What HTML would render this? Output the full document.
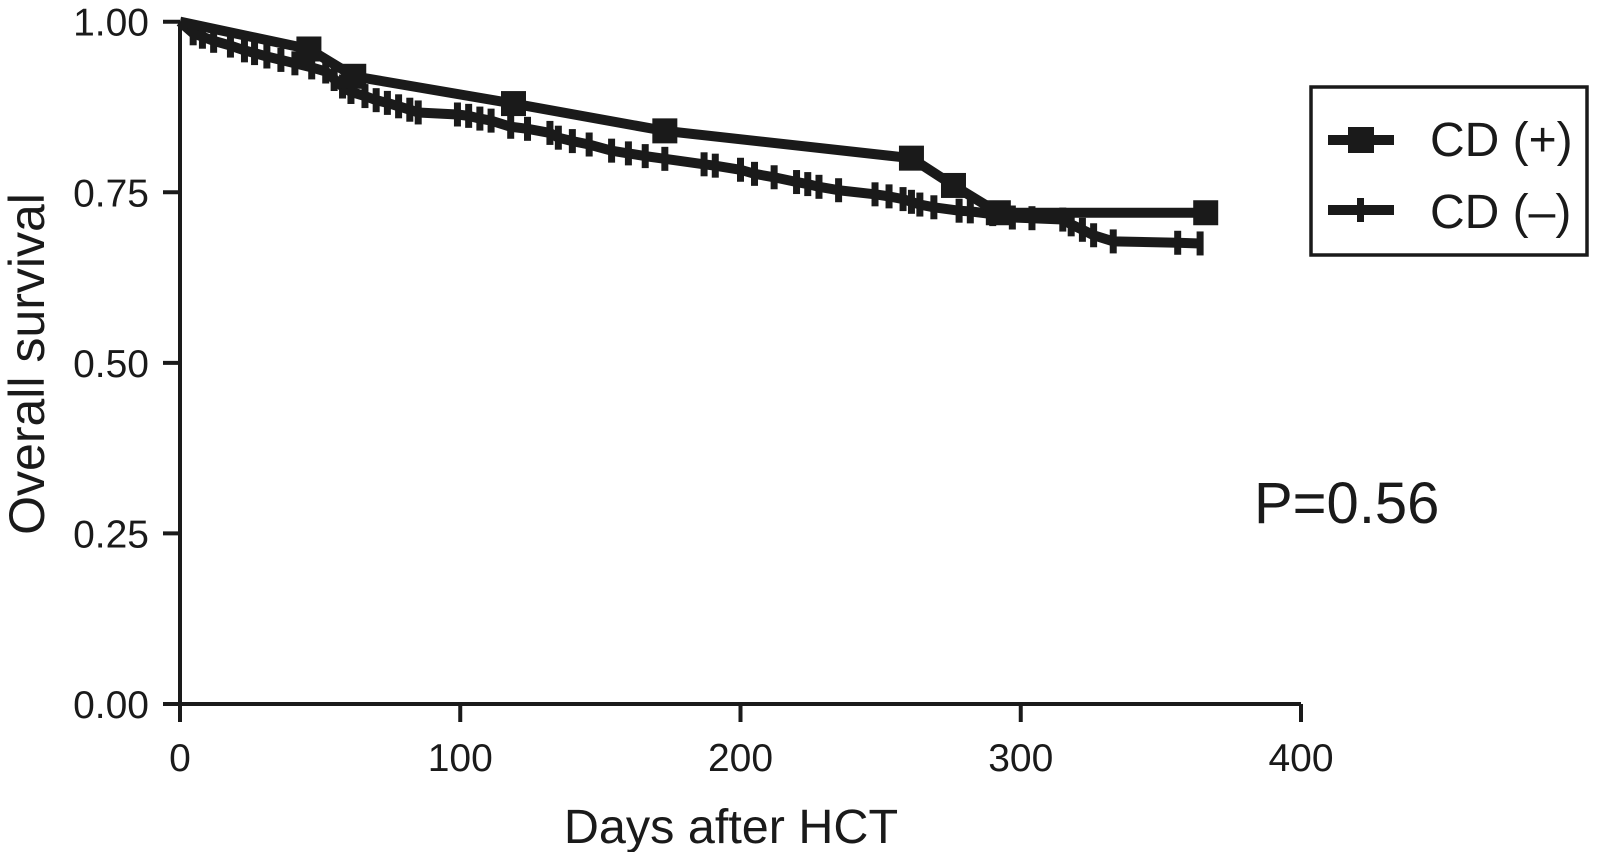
<!DOCTYPE html>
<html><head><meta charset="utf-8"><style>
html,body{margin:0;padding:0;background:#fff;}
svg{display:block;font-family:"Liberation Sans",Arial,sans-serif;}
</style></head><body>
<svg id="chart" width="1602" height="852" viewBox="0 0 1602 852" xmlns="http://www.w3.org/2000/svg">
<g id="axes"></g>
<g id="series"></g>
<g>
  <rect x="1311" y="87" width="276" height="168" fill="#fff" stroke="#1a1a1a" stroke-width="3.5"/>
  <g>
    <line x1="1328" y1="140" x2="1394" y2="140" stroke="#1a1a1a" stroke-width="10"/>
    <rect x="1348" y="127" width="26" height="26" fill="#1a1a1a"/>
    <text x="1430" y="156" font-size="48" fill="#1a1a1a">CD (+)</text>
  </g>
  <g>
    <line x1="1328" y1="210" x2="1394" y2="210" stroke="#1a1a1a" stroke-width="10"/>
    <rect x="1357" y="198" width="7" height="24" fill="#1a1a1a"/>
    <text x="1430" y="228" font-size="48" fill="#1a1a1a">CD (–)</text>
  </g>
</g>
<text x="1254" y="523" font-size="58" fill="#1a1a1a">P=0.56</text>
<text x="731" y="843" font-size="48.5" text-anchor="middle" fill="#1a1a1a">Days after HCT</text>
<text transform="translate(44,364) rotate(-90)" font-size="50" text-anchor="middle" fill="#1a1a1a">Overall survival</text>
</svg>
<script>
const xTicks = [0, 100, 200, 300, 400];
const yTicks = [0, 0.25, 0.5, 0.75, 1.0];
const yTickLabels = ["0.00", "0.25", "0.50", "0.75", "1.00"];
const posDays = [0, 46, 62, 119, 173, 261, 276, 292, 366];
const posSurv = [1.0, 0.96, 0.92, 0.88, 0.84, 0.80, 0.76, 0.72, 0.72];
const negDays = [0, 4.7, 8, 12, 18, 23, 26.6, 31, 36, 41, 47, 52, 55, 58, 61, 66, 70, 74, 78, 82, 85, 99, 103, 107, 111, 118, 124, 132, 135, 140, 146, 154, 160, 166, 173, 187, 191, 200, 205, 212, 220, 224, 228, 235, 248, 253, 258, 261, 264, 269, 278, 282, 290, 297, 304, 315, 318, 322, 326, 333, 356, 364];
const negSurv = [1.0, 0.983, 0.978, 0.972, 0.965, 0.958, 0.954, 0.949, 0.944, 0.939, 0.933, 0.927, 0.916, 0.905, 0.897, 0.891, 0.885, 0.881, 0.876, 0.871, 0.867, 0.864, 0.862, 0.858, 0.855, 0.846, 0.843, 0.837, 0.83, 0.825, 0.82, 0.811, 0.807, 0.803, 0.799, 0.791, 0.789, 0.783, 0.777, 0.772, 0.765, 0.762, 0.758, 0.753, 0.747, 0.744, 0.74, 0.736, 0.732, 0.728, 0.723, 0.722, 0.718, 0.713, 0.712, 0.710, 0.703, 0.695, 0.687, 0.678, 0.676, 0.675];

const NS = "http://www.w3.org/2000/svg";
const X = d => 180 + d * 2.8025;
const Y = s => 704 - s * 682.3;
function mk(tag, attrs, parent) {
  const e = document.createElementNS(NS, tag);
  for (const k in attrs) e.setAttribute(k, attrs[k]);
  parent.appendChild(e);
  return e;
}
const axes = document.getElementById("axes");
const ser = document.getElementById("series");
const ink = "#1a1a1a";

let xa = mk("line", {x1: X(0), y1: Y(0), x2: X(400), y2: Y(0), stroke: ink, "stroke-width": 4}, axes);


let ya = mk("line", {x1: X(0), y1: Y(0) + 2, x2: X(0), y2: Y(1), stroke: ink, "stroke-width": 4}, axes);



xTicks.forEach(t => {
  const l = mk("line", {x1: X(t), y1: Y(0), x2: X(t), y2: Y(0) + 18, stroke: ink, "stroke-width": 4}, axes);
  
  
  const tx = mk("text", {x: X(t), y: 771, "font-size": 39, "text-anchor": "middle", fill: ink}, axes);
  tx.textContent = String(t);
  
  
});
yTicks.forEach((t, i) => {
  const l = mk("line", {x1: X(0) - 17, y1: Y(t), x2: X(0), y2: Y(t), stroke: ink, "stroke-width": 4}, axes);
  
  
  const tx = mk("text", {x: 149, y: Y(t) + 14, "font-size": 39, "text-anchor": "end", fill: ink}, axes);
  tx.textContent = yTickLabels[i];
  
  
});

let negPts = negDays.map((d, i) => X(d) + "," + Y(negSurv[i])).join(" ");
let negLine = mk("polyline", {points: negPts, fill: "none", stroke: ink, "stroke-width": 10, "stroke-linejoin": "round"}, ser);


negDays.forEach((d, i) => {
  if (i === 0) return;
  const m = mk("rect", {x: X(d) - 3.5, y: Y(negSurv[i]) - 12, width: 7, height: 24, fill: ink}, ser);
  
  
});

let posPts = posDays.map((d, i) => X(d) + "," + Y(posSurv[i])).join(" ");
let posLine = mk("polyline", {points: posPts, fill: "none", stroke: ink, "stroke-width": 10, "stroke-linejoin": "round"}, ser);


posDays.forEach((d, i) => {
  if (i === 0) return;
  const m = mk("rect", {x: X(d) - 12.5, y: Y(posSurv[i]) - 12.5, width: 25, height: 25, fill: ink}, ser);
  
  
});
</script>
</body></html>
